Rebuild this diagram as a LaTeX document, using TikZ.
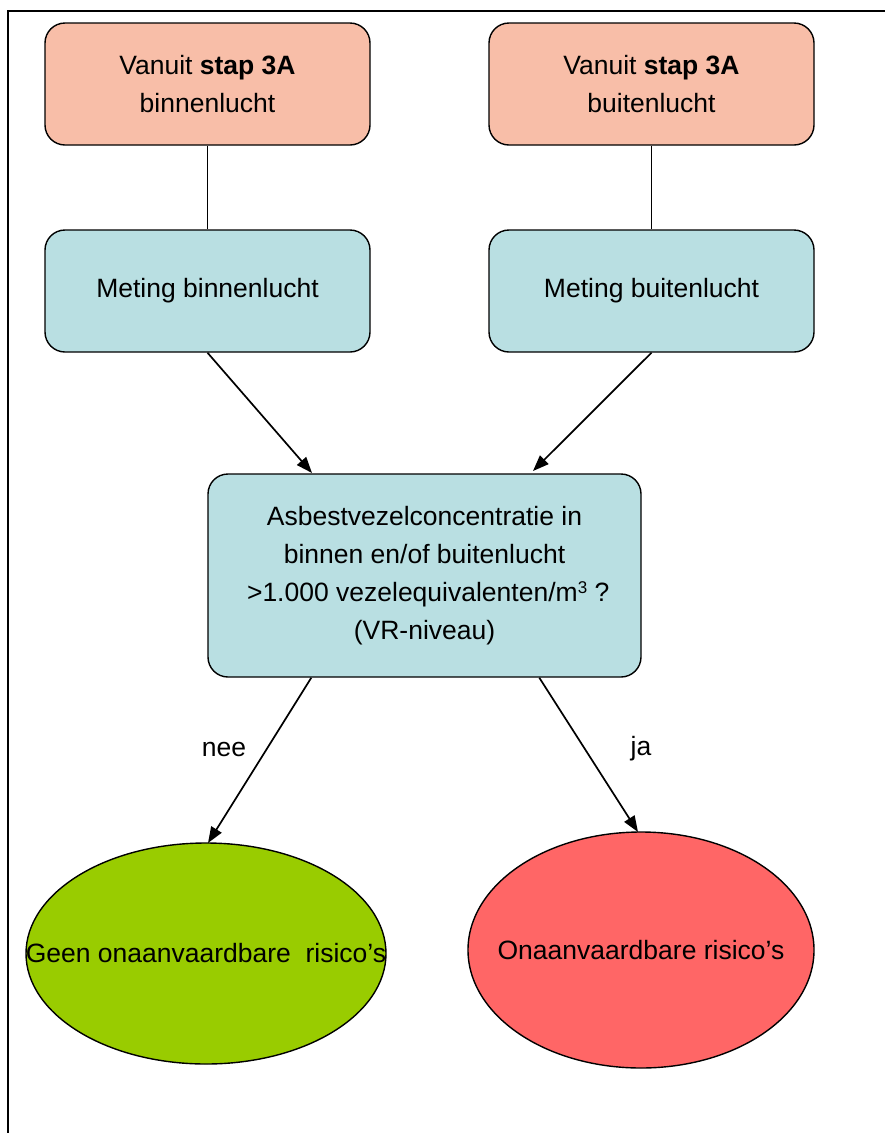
\documentclass[tikz,border=0pt]{standalone}
\usepackage{fontspec}
\setmainfont{Liberation Sans}
\usetikzlibrary{arrows.meta,shapes.geometric}
\definecolor{salmon}{HTML}{F8BEA8}
\definecolor{lcyan}{HTML}{B9DFE2}
\definecolor{lgreen}{HTML}{99CC00}
\definecolor{lred}{HTML}{FF6666}
\begin{document}
\begin{tikzpicture}[x=1pt,y=-1pt,
  every node/.style={font=\fontsize{26.5}{38}\selectfont, align=center},
  box/.style={draw=black, line width=1.4pt, rounded corners=20pt, inner sep=0pt},
  topbox/.style={box, fill=salmon, minimum width=325pt, minimum height=122pt},
  midbox/.style={box, fill=lcyan, minimum width=325pt, minimum height=122pt},
  oval/.style={draw=black, line width=1.4pt, ellipse, inner sep=0pt},
  conn/.style={line width=1.2pt},
  arr/.style={line width=1.7pt, -{Triangle[length=16pt,width=12pt]}},
  lbl/.style={font=\fontsize{26.5}{30}\selectfont}
]
\useasboundingbox (0,0) rectangle (884,1133);
\draw[line width=1.4pt] (8,1200) -- (8,11) -- (950,11);

\node[topbox] (tl) at (207.5,84) {Vanuit \textbf{stap 3A}\\binnenlucht};
\node[topbox] (tr) at (651.5,84) {Vanuit \textbf{stap 3A}\\buitenlucht};
\node[midbox] (ml) at (207.5,291) {Meting binnenlucht};
\node[midbox] (mr) at (651.5,291) {Meting buitenlucht};
\node[box, fill=lcyan, minimum width=433pt, minimum height=203pt] (c) at (424.5,575.5)
  {Asbestvezelconcentratie in\\binnen en/of buitenlucht\\ \ >1.000 vezelequivalenten/m\raisebox{0.55ex}{\fontsize{17}{20}\selectfont 3}\ ?\\(VR-niveau)};

\node[oval, fill=lgreen, minimum width=360pt, minimum height=221pt] (g) at (206,953.5) {};
\node at (g.center) {Geen onaanvaardbare\ \ risico’s};
\node[oval, fill=lred, minimum width=346pt, minimum height=236pt] (r) at (641,950) {};
\node at (r.center) {Onaanvaardbare risico’s};

\coordinate (cinL) at (312,473);
\coordinate (cinR) at (533,471);
\coordinate (coutL) at ([xshift=104pt]c.south west);
\coordinate (coutR) at ([xshift=332pt]c.south west);
\coordinate (gtop) at (208,843);
\coordinate (rtop) at (638,832);

\draw[conn] (tl.south) -- (ml.north);
\draw[conn] (tr.south) -- (mr.north);
\draw[arr] (ml.south) -- (cinL);
\draw[arr] (mr.south) -- (cinR);
\draw[arr] (coutL) -- (gtop);
\draw[arr] (coutR) -- (rtop);

\node[lbl] (nee) at (224,749) {nee};
\node[lbl] (ja) at (641,749) {ja};
\end{tikzpicture}
\end{document}
